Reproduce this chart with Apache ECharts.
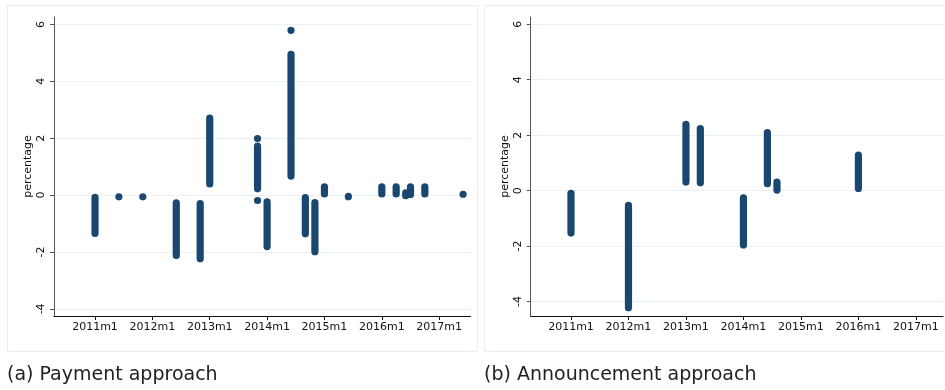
<!DOCTYPE html>
<html>
<head>
<meta charset="utf-8">
<script src="https://cdn.jsdelivr.net/npm/echarts@6/dist/echarts.min.js"></script>
<style>
  html, body { margin: 0; padding: 0; background: #fff; }
  #chart { width: 945px; height: 390px; }
</style>
</head>
<body>
<div id="chart"></div>
<script>
// tick labels on the month axis
const monthTicks = ['2011m1', '2012m1', '2013m1', '2014m1', '2015m1', '2016m1', '2017m1'];
const pctTicks = [-4, -2, 0, 2, 4, 6];

// (a) payment approach: month, lowest and highest value in each strip
const payMonths = ['2011m1', '2011m6', '2011m11', '2012m6', '2012m11', '2013m1', '2013m11', '2013m11', '2013m11',
  '2014m1', '2014m6', '2014m6', '2014m9', '2014m11', '2015m1', '2015m6', '2016m1', '2016m4', '2016m6',
  '2016m7', '2016m10', '2017m6'];
const payLow = [-1.35, -0.06, -0.06, -2.12, -2.24, 0.39, 0.22, 1.99, -0.19,
  -1.81, 0.67, 5.79, -1.36, -1.99, 0.04, -0.06, 0.04, 0.04, -0.02,
  0.02, 0.04, 0.03];
const payHigh = [-0.08, -0.06, -0.06, -0.27, -0.30, 2.71, 1.72, 1.99, -0.19,
  -0.24, 4.95, 5.79, -0.09, -0.26, 0.29, -0.04, 0.29, 0.29, 0.08,
  0.29, 0.29, 0.03];

// (b) announcement approach
const annMonths = ['2011m1', '2012m1', '2013m1', '2013m4', '2014m1', '2014m6', '2014m8', '2016m1'];
const annLow = [-1.53, -4.22, 0.31, 0.28, -1.96, 0.25, 0.02, 0.08];
const annHigh = [-0.10, -0.53, 2.39, 2.24, -0.26, 2.09, 0.31, 1.28];

const navy = '#1a476f';
const gridCol = '#eaf1f2';

// months counted from 2011m1
const toIndex = s => {
  const [y, m] = s.split('m').map(Number);
  return (y - 2011) * 12 + (m - 1);
};
const fromIndex = v => (2011 + Math.floor(v / 12)) + 'm' + (v % 12 + 1);

const strips = (months, low, high) => months.map((m, i) => [toIndex(m), low[i], high[i]]);

const renderStrip = (params, api) => {
  const top = api.coord([api.value(0), api.value(2)]);
  const bot = api.coord([api.value(0), api.value(1)]);
  return {
    type: 'rect',
    shape: { x: top[0] - 3.6, y: top[1] - 3.6, width: 7.2, height: bot[1] - top[1] + 7.2, r: 3.6 },
    style: { fill: navy }
  };
};

const font = 'DejaVu Sans';

const xAxisFor = (idx, min, max) => ({
  gridIndex: idx,
  type: 'value',
  min: min,
  max: max,
  axisLine: { onZero: false, lineStyle: { color: '#111', width: 1 } },
  axisTick: { show: true, length: 4, lineStyle: { color: '#111' }, customValues: monthTicks.map(toIndex) },
  axisLabel: {
    customValues: monthTicks.map(toIndex),
    formatter: v => fromIndex(v),
    fontFamily: font, fontSize: 11, color: '#111', margin: 6
  },
  splitLine: { show: false }
});

const yAxisFor = (idx, min, max) => ({
  gridIndex: idx,
  type: 'value',
  min: min,
  max: max,
  name: 'percentage',
  nameLocation: 'middle',
  nameRotate: 90,
  nameGap: 20,
  nameTextStyle: { fontFamily: font, fontSize: 11, color: '#111' },
  axisLine: { show: true, onZero: false, lineStyle: { color: '#555', width: 1 } },
  axisTick: { show: true, length: 4, lineStyle: { color: '#555' }, customValues: pctTicks },
  axisLabel: {
    customValues: pctTicks,
    rotate: 90,
    fontFamily: font, fontSize: 11, color: '#111', margin: 7
  },
  splitLine: { show: true, lineStyle: { color: gridCol, width: 1 } }
});

const chart = echarts.init(document.getElementById('chart'));
chart.setOption({
  animation: false,
  backgroundColor: '#fff',
  title: [
    { text: '(a) Payment approach', left: 2, top: 361, textStyle: { fontFamily: font, fontSize: 19, fontWeight: 'normal', color: '#222' } },
    { text: '(b) Announcement approach', left: 479, top: 361, textStyle: { fontFamily: font, fontSize: 19, fontWeight: 'normal', color: '#222' } }
  ],
  graphic: [
    { type: 'rect', shape: { x: 7.5, y: 5.5, width: 470, height: 346 }, style: { fill: 'none', stroke: '#e9eff1', lineWidth: 1 }, z: -1 },
    { type: 'rect', shape: { x: 484.5, y: 5.5, width: 470, height: 346 }, style: { fill: 'none', stroke: '#e9eff1', lineWidth: 1 }, z: -1 }
  ],
  grid: [
    { left: 54, right: 474.5, top: 17, bottom: 74 },
    { left: 530.7, right: 2, top: 17, bottom: 74 }
  ],
  xAxis: [xAxisFor(0, -8.58, 78.55), xAxisFor(1, -8.41, 77.66)],
  yAxis: [yAxisFor(0, -4.25, 6.26), yAxisFor(1, -4.52, 6.26)],
  series: [
    {
      type: 'custom', xAxisIndex: 0, yAxisIndex: 0,
      renderItem: renderStrip,
      encode: { x: 0, y: [1, 2] },
      data: strips(payMonths, payLow, payHigh)
    },
    {
      type: 'custom', xAxisIndex: 1, yAxisIndex: 1,
      renderItem: renderStrip,
      encode: { x: 0, y: [1, 2] },
      data: strips(annMonths, annLow, annHigh)
    }
  ]
});
</script>
</body>
</html>
